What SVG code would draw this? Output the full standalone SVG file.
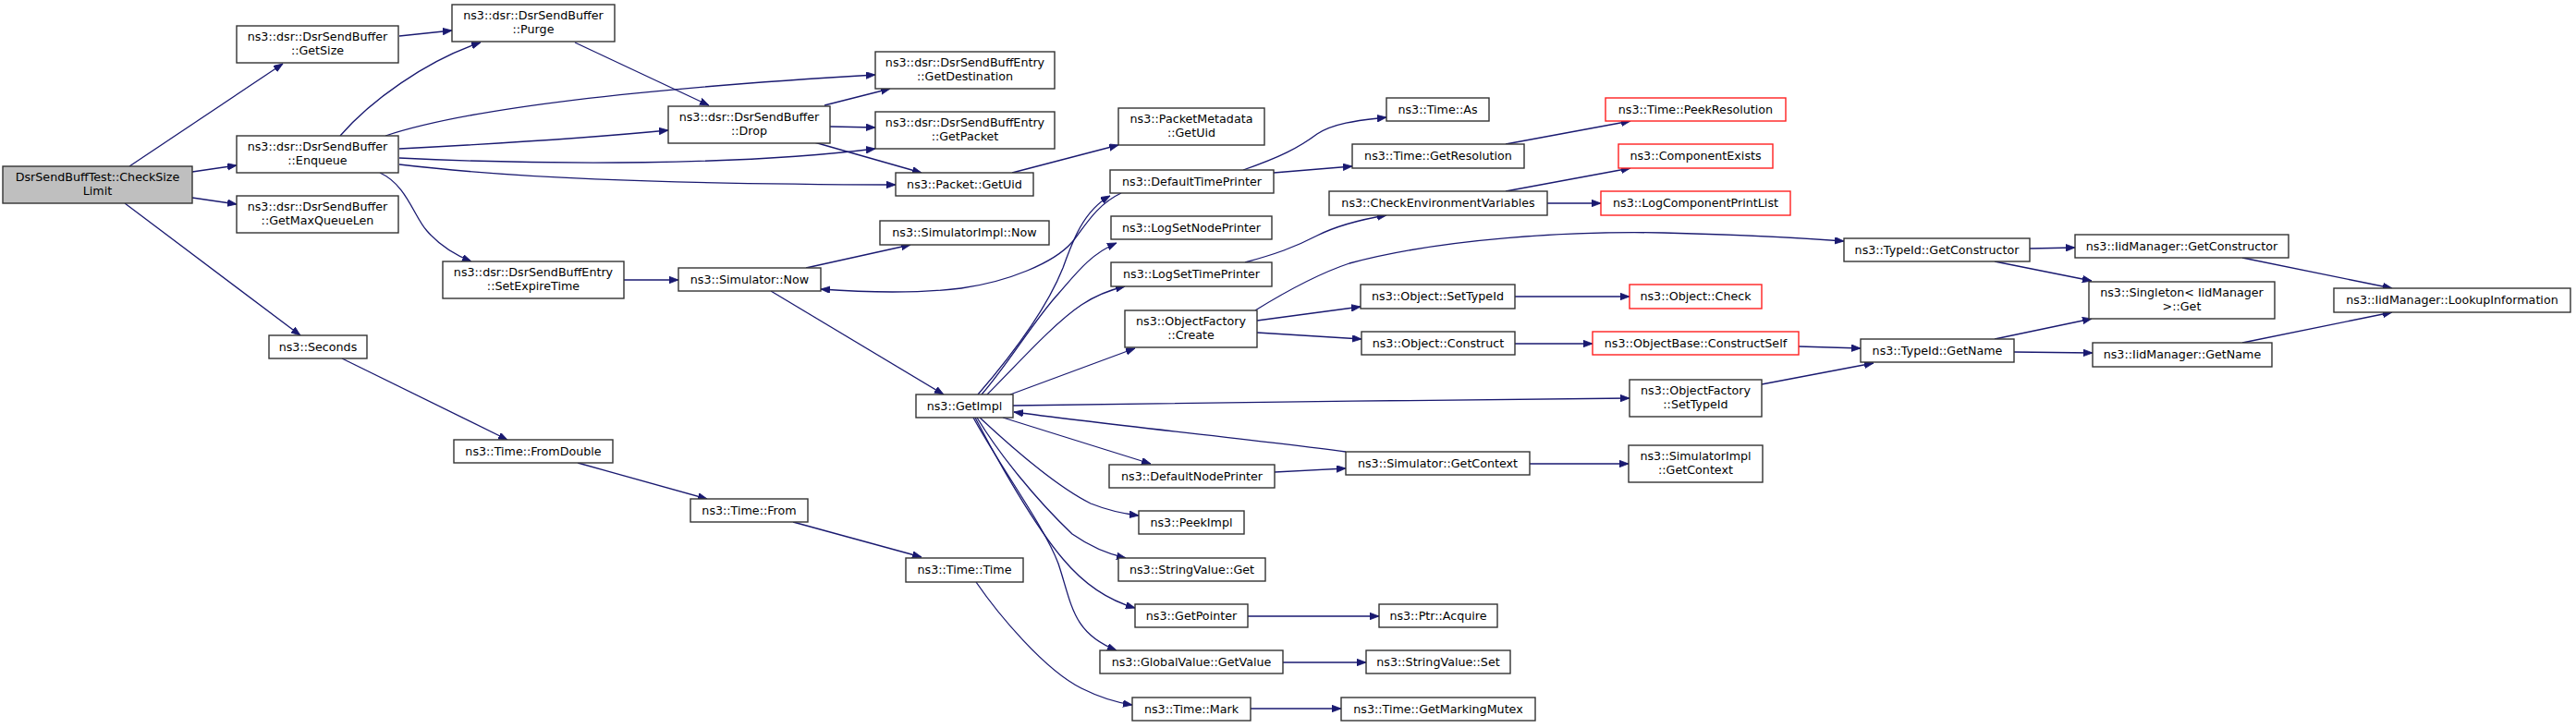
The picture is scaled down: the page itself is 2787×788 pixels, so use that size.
<svg xmlns="http://www.w3.org/2000/svg" width="2787" height="788" viewBox="0 0 2787 788">
<style>
.n rect{fill:#ffffff;stroke:#333333;stroke-width:1.4}
.n.root rect{fill:#bfbfbf}
.n.red rect{stroke:#ff2020}
.n text{font-family:"DejaVu Sans","Liberation Sans",sans-serif;font-size:12.7px;text-anchor:middle;fill:#000000}
.e path{fill:none;stroke:#191970;stroke-width:1.3;marker-end:url(#ah)}
</style>
<defs>
<marker id="ah" markerUnits="userSpaceOnUse" markerWidth="11" markerHeight="8" refX="10" refY="3.75" orient="auto">
<path d="M0,0 L10,3.75 L0,7.5 z" fill="#191970" stroke="#191970" stroke-width="0.8"/>
</marker>
</defs>
<rect width="2787" height="788" fill="#ffffff"/>
<g class="e" id="edges">
<path d="M140,180 L306,69"/>
<path d="M208,186 L256,179"/>
<path d="M208,214 L256,221"/>
<path d="M135,220 L325,363"/>
<path d="M432,39 L489,33"/>
<path d="M368,147 C400,110 460,66 520,46"/>
<path d="M417,147 C480,126 620,100 947,81"/>
<path d="M432,161 C530,156 630,150 723,141"/>
<path d="M432,171 C600,179 800,179 947,161"/>
<path d="M432,178 C550,192 700,199 969,200"/>
<path d="M411,187 C440,200 448,235 462,250 C475,265 490,275 510,283"/>
<path d="M622,46 L767,114"/>
<path d="M892,114 L963,96"/>
<path d="M898,137 L947,138"/>
<path d="M881,154 L997,187"/>
<path d="M1095,187 L1210,157"/>
<path d="M675,303 L734,303"/>
<path d="M872,290 L985,265"/>
<path d="M834,315 L1021,427"/>
<path d="M1213,209 C1185,222 1172,248 1160,262 C1140,285 1090,305 1040,312 C990,318 930,316 888,313"/>
<path d="M1058,427 C1090,390 1130,340 1150,290 C1160,262 1172,228 1201,212"/>
<path d="M1062,427 C1090,395 1120,345 1145,318 C1165,295 1180,275 1208,263"/>
<path d="M1068,427 C1100,395 1140,350 1170,330 C1185,320 1200,314 1217,310"/>
<path d="M1093,427 L1228,377"/>
<path d="M1096,439 C1300,436 1550,433 1763,431"/>
<path d="M1456,489 C1350,475 1200,460 1097,446"/>
<path d="M1085,452 L1245,502"/>
<path d="M1060,452 C1090,480 1140,525 1180,545 C1200,553 1215,556 1232,558"/>
<path d="M1057,452 C1080,490 1120,540 1160,578 C1180,592 1200,600 1218,604"/>
<path d="M1055,452 C1080,500 1120,570 1150,605 C1175,635 1200,650 1228,658"/>
<path d="M1053,452 C1085,510 1130,570 1145,610 C1160,655 1160,685 1208,704"/>
<path d="M1345,184 C1385,170 1405,160 1425,145 C1445,132 1475,130 1500,127"/>
<path d="M1378,187 L1463,180"/>
<path d="M1629,156 L1764,131"/>
<path d="M1347,284 C1380,275 1400,268 1425,255 C1445,245 1470,238 1500,233"/>
<path d="M1629,207 L1764,182"/>
<path d="M1674,220 L1732,220"/>
<path d="M1358,336 C1400,310 1430,295 1460,285 C1560,258 1700,250 1800,252 C1880,254 1940,257 1995,261"/>
<path d="M1360,347 L1472,332"/>
<path d="M1360,360 L1473,367"/>
<path d="M1639,321 L1763,321"/>
<path d="M1639,372 L1723,372"/>
<path d="M1946,375 L2013,377"/>
<path d="M1906,416 L2027,393"/>
<path d="M1379,511 L1456,507"/>
<path d="M1655,502 L1762,502"/>
<path d="M1350,667 L1492,667"/>
<path d="M1388,717 L1478,717"/>
<path d="M1353,767 L1451,767"/>
<path d="M370,388 L549,476"/>
<path d="M625,501 L765,540"/>
<path d="M858,565 L997,603"/>
<path d="M1056,630 C1080,665 1130,725 1170,745 C1190,755 1205,760 1225,763"/>
<path d="M2196,269 L2245,268"/>
<path d="M2158,283 L2263,304"/>
<path d="M2158,367 L2263,345"/>
<path d="M2179,381 L2264,382"/>
<path d="M2426,279 L2588,312"/>
<path d="M2426,371 L2588,338"/>
</g>
<g id="root" class="n root"><rect x="3" y="180" width="205" height="40"/><text x="105.5" y="196">DsrSendBuffTest::CheckSize</text><text x="105.5" y="211">Limit</text></g>
<g id="getsize" class="n"><rect x="256" y="28" width="175" height="40"/><text x="343.5" y="44">ns3::dsr::DsrSendBuffer</text><text x="343.5" y="59">::GetSize</text></g>
<g id="purge" class="n"><rect x="489" y="5" width="176" height="40"/><text x="577" y="21">ns3::dsr::DsrSendBuffer</text><text x="577" y="36">::Purge</text></g>
<g id="enqueue" class="n"><rect x="256" y="147" width="175" height="40"/><text x="343.5" y="163">ns3::dsr::DsrSendBuffer</text><text x="343.5" y="178">::Enqueue</text></g>
<g id="maxq" class="n"><rect x="256" y="212" width="175" height="40"/><text x="343.5" y="228">ns3::dsr::DsrSendBuffer</text><text x="343.5" y="243">::GetMaxQueueLen</text></g>
<g id="expire" class="n"><rect x="479" y="283" width="196" height="40"/><text x="577" y="299">ns3::dsr::DsrSendBuffEntry</text><text x="577" y="314">::SetExpireTime</text></g>
<g id="seconds" class="n"><rect x="291" y="363" width="106" height="25"/><text x="344" y="379.5">ns3::Seconds</text></g>
<g id="fromdouble" class="n"><rect x="491" y="476" width="172" height="25"/><text x="577" y="492.5">ns3::Time::FromDouble</text></g>
<g id="getdest" class="n"><rect x="947" y="56" width="194" height="40"/><text x="1044" y="72">ns3::dsr::DsrSendBuffEntry</text><text x="1044" y="87">::GetDestination</text></g>
<g id="drop" class="n"><rect x="723" y="115" width="175" height="40"/><text x="810.5" y="131">ns3::dsr::DsrSendBuffer</text><text x="810.5" y="146">::Drop</text></g>
<g id="getpacket" class="n"><rect x="947" y="121" width="194" height="40"/><text x="1044" y="137">ns3::dsr::DsrSendBuffEntry</text><text x="1044" y="152">::GetPacket</text></g>
<g id="pmgetuid" class="n"><rect x="1210" y="117" width="158" height="40"/><text x="1289" y="133">ns3::PacketMetadata</text><text x="1289" y="148">::GetUid</text></g>
<g id="pktgetuid" class="n"><rect x="969" y="187" width="149" height="25"/><text x="1043.5" y="203.5">ns3::Packet::GetUid</text></g>
<g id="dtp" class="n"><rect x="1201" y="184" width="177" height="25"/><text x="1289.5" y="200.5">ns3::DefaultTimePrinter</text></g>
<g id="simimplnow" class="n"><rect x="952" y="239" width="183" height="26"/><text x="1043.5" y="256">ns3::SimulatorImpl::Now</text></g>
<g id="lsnp" class="n"><rect x="1202" y="234" width="174" height="25"/><text x="1289" y="250.5">ns3::LogSetNodePrinter</text></g>
<g id="simnow" class="n"><rect x="734" y="290" width="154" height="25"/><text x="811" y="306.5">ns3::Simulator::Now</text></g>
<g id="lstp" class="n"><rect x="1202" y="284" width="174" height="26"/><text x="1289" y="301">ns3::LogSetTimePrinter</text></g>
<g id="ofcreate" class="n"><rect x="1217" y="336" width="143" height="40"/><text x="1288.5" y="352">ns3::ObjectFactory</text><text x="1288.5" y="367">::Create</text></g>
<g id="getimpl" class="n"><rect x="991" y="427" width="105" height="25"/><text x="1043.5" y="443.5">ns3::GetImpl</text></g>
<g id="dnp" class="n"><rect x="1200" y="503" width="179" height="25"/><text x="1289.5" y="519.5">ns3::DefaultNodePrinter</text></g>
<g id="timefrom" class="n"><rect x="747" y="540" width="127" height="25"/><text x="810.5" y="556.5">ns3::Time::From</text></g>
<g id="peekimpl" class="n"><rect x="1232" y="553" width="114" height="25"/><text x="1289" y="569.5">ns3::PeekImpl</text></g>
<g id="timetime" class="n"><rect x="980" y="604" width="127" height="26"/><text x="1043.5" y="621">ns3::Time::Time</text></g>
<g id="svget" class="n"><rect x="1210" y="604" width="159" height="25"/><text x="1289.5" y="620.5">ns3::StringValue::Get</text></g>
<g id="getpointer" class="n"><rect x="1228" y="654" width="122" height="25"/><text x="1289" y="670.5">ns3::GetPointer</text></g>
<g id="gvgetvalue" class="n"><rect x="1190" y="704" width="198" height="25"/><text x="1289" y="720.5">ns3::GlobalValue::GetValue</text></g>
<g id="timemark" class="n"><rect x="1225" y="755" width="128" height="25"/><text x="1289" y="771.5">ns3::Time::Mark</text></g>
<g id="timeas" class="n"><rect x="1500" y="106" width="111" height="25"/><text x="1555.5" y="122.5">ns3::Time::As</text></g>
<g id="getres" class="n"><rect x="1463" y="156" width="186" height="26"/><text x="1556" y="173">ns3::Time::GetResolution</text></g>
<g id="peekres" class="n red"><rect x="1737" y="106" width="195" height="25"/><text x="1834.5" y="122.5">ns3::Time::PeekResolution</text></g>
<g id="checkenv" class="n"><rect x="1438" y="207" width="236" height="26"/><text x="1556" y="224">ns3::CheckEnvironmentVariables</text></g>
<g id="compexists" class="n red"><rect x="1751" y="156" width="167" height="26"/><text x="1834.5" y="173">ns3::ComponentExists</text></g>
<g id="logcpl" class="n red"><rect x="1732" y="207" width="205" height="26"/><text x="1834.5" y="224">ns3::LogComponentPrintList</text></g>
<g id="tidgetctor" class="n"><rect x="1995" y="258" width="201" height="25"/><text x="2095.5" y="274.5">ns3::TypeId::GetConstructor</text></g>
<g id="objsettid" class="n"><rect x="1472" y="308" width="167" height="26"/><text x="1555.5" y="325">ns3::Object::SetTypeId</text></g>
<g id="objcheck" class="n red"><rect x="1763" y="308" width="143" height="26"/><text x="1834.5" y="325">ns3::Object::Check</text></g>
<g id="objconstruct" class="n"><rect x="1473" y="359" width="166" height="25"/><text x="1556" y="375.5">ns3::Object::Construct</text></g>
<g id="constructself" class="n red"><rect x="1723" y="359" width="223" height="25"/><text x="1834.5" y="375.5">ns3::ObjectBase::ConstructSelf</text></g>
<g id="tidgetname" class="n"><rect x="2013" y="367" width="166" height="25"/><text x="2096" y="383.5">ns3::TypeId::GetName</text></g>
<g id="ofsettid" class="n"><rect x="1763" y="411" width="143" height="40"/><text x="1834.5" y="427">ns3::ObjectFactory</text><text x="1834.5" y="442">::SetTypeId</text></g>
<g id="simgetctx" class="n"><rect x="1456" y="489" width="199" height="25"/><text x="1555.5" y="505.5">ns3::Simulator::GetContext</text></g>
<g id="simimplgetctx" class="n"><rect x="1762" y="482" width="145" height="40"/><text x="1834.5" y="498">ns3::SimulatorImpl</text><text x="1834.5" y="513">::GetContext</text></g>
<g id="ptracquire" class="n"><rect x="1492" y="654" width="128" height="25"/><text x="1556" y="670.5">ns3::Ptr::Acquire</text></g>
<g id="svset" class="n"><rect x="1478" y="704" width="156" height="25"/><text x="1556" y="720.5">ns3::StringValue::Set</text></g>
<g id="markmutex" class="n"><rect x="1451" y="755" width="210" height="25"/><text x="1556" y="771.5">ns3::Time::GetMarkingMutex</text></g>
<g id="iidgetctor" class="n"><rect x="2245" y="254" width="231" height="25"/><text x="2360.5" y="270.5">ns3::IidManager::GetConstructor</text></g>
<g id="singleton" class="n"><rect x="2260" y="305" width="201" height="40"/><text x="2360.5" y="321">ns3::Singleton&lt; IidManager</text><text x="2360.5" y="336">&gt;::Get</text></g>
<g id="lookup" class="n"><rect x="2525" y="312" width="256" height="26"/><text x="2653" y="329">ns3::IidManager::LookupInformation</text></g>
<g id="iidgetname" class="n"><rect x="2264" y="371" width="194" height="26"/><text x="2361" y="388">ns3::IidManager::GetName</text></g>
</svg>
